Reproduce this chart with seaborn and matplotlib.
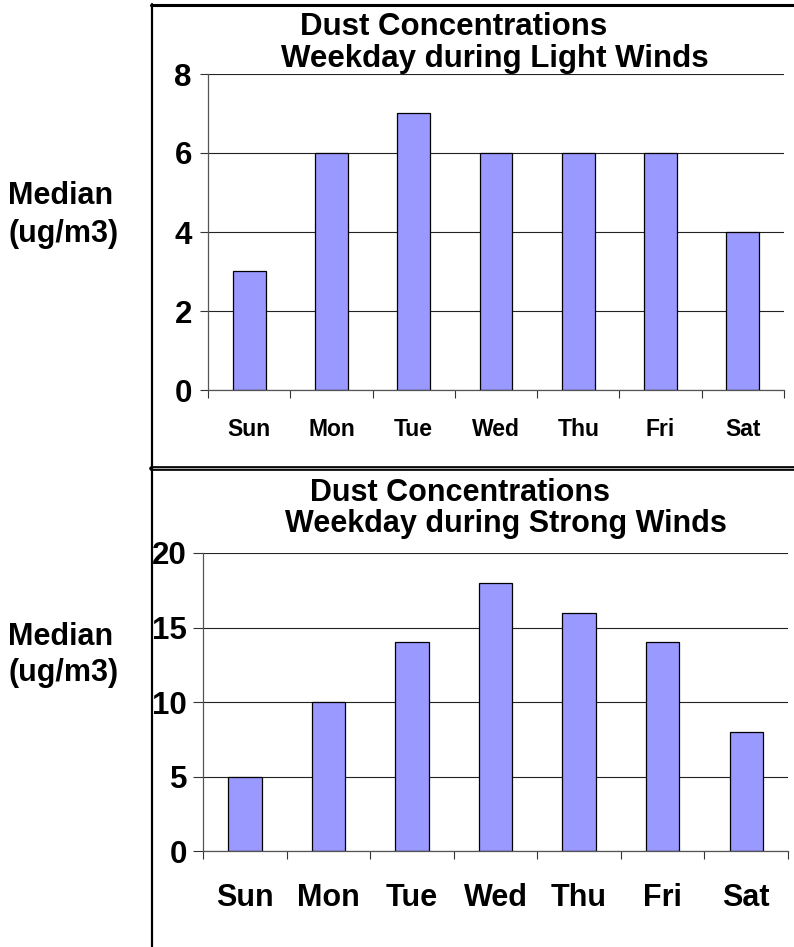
import matplotlib.pyplot as plt
import seaborn as sns
import pandas as pd
from matplotlib.lines import Line2D

days = ["Sun", "Mon", "Tue", "Wed", "Thu", "Fri", "Sat"]
light_winds = [3, 6, 7, 6, 6, 6, 4]
strong_winds = [5, 10, 14, 18, 16, 14, 8]

light_ticks = [0, 2, 4, 6, 8]
strong_ticks = [0, 5, 10, 15, 20]

title_top = ["Dust Concentrations", "Weekday during Light Winds"]
title_bottom = ["Dust Concentrations", "Weekday during Strong Winds"]
ylabel_lines = ["Median", "(ug/m3)"]

W, H = 794, 947

sns.set_theme(style="white")
plt.rcParams["font.family"] = ["Liberation Sans", "DejaVu Sans"]
plt.rcParams["font.weight"] = "bold"
plt.rcParams["text.color"] = "black"
plt.rcParams["xtick.labelcolor"] = "black"
plt.rcParams["ytick.labelcolor"] = "black"

fig = plt.figure(figsize=(W / 100, H / 100), dpi=100)
fig.patch.set_facecolor("white")


def fx(x):
    return x / W


def fy(y):
    return 1 - y / H


def axes_box(x0, x1, y_top, y_bot):
    return [fx(x0), fy(y_bot), (x1 - x0) / W, (y_bot - y_top) / H]


def draw_panel(ax, values, ticks, ylim, xfs, xpad, ytick_len, ypad):
    df = pd.DataFrame({"day": days, "value": values})
    sns.barplot(
        data=df, x="day", y="value", ax=ax,
        color="#9999FF", saturation=1, width=0.4,
        edgecolor="black", linewidth=0.9,
    )
    ax.set_xlim(-0.5, len(days) - 0.5)
    ax.set_ylim(*ylim)
    ax.set_yticks(ticks)
    ax.set_yticklabels([str(t) for t in ticks], fontsize=22.5,
                       fontweight="bold", color="black")
    ax.set_xticks([i - 0.5 for i in range(len(days) + 1)])
    ax.set_xticklabels([])
    ax.set_xticks(range(len(days)), minor=True)
    ax.set_xticklabels(days, minor=True, fontsize=xfs, fontweight="bold",
                       color="black")
    ax.tick_params(axis="x", which="major", direction="out", length=5.5,
                   width=0.8, color="#333333", bottom=True)
    ax.tick_params(axis="x", which="minor", length=0, pad=xpad)
    ax.tick_params(axis="y", direction="out", length=ytick_len, width=0.8,
                   color="#333333", pad=ypad, left=True)
    ax.set_xlabel("")
    ax.set_ylabel("")
    ax.set_axisbelow(True)
    ax.yaxis.grid(True, color="#222222", linewidth=0.8)
    ax.xaxis.grid(False)
    for side in ["top", "right"]:
        ax.spines[side].set_visible(False)
    for side in ["left", "bottom"]:
        ax.spines[side].set_color("#555555")
        ax.spines[side].set_linewidth(0.9)
    ax.set_facecolor("white")


# ==================
# Top panel
# ==================

ax1 = fig.add_axes(axes_box(208, 784, 74, 390))
draw_panel(ax1, light_winds, light_ticks, (0, 8), 16.5, 20, 5.8, 5.8)

fig.text(fx(454), fy(27), title_top[0], fontsize=22.5, fontweight="bold",
         ha="center", va="center")
fig.text(fx(495), fy(59), title_top[1], fontsize=22.5, fontweight="bold",
         ha="center", va="center")
fig.text(fx(8), fy(196), ylabel_lines[0], fontsize=22, fontweight="bold",
         ha="left", va="center")
fig.text(fx(8), fy(234), ylabel_lines[1], fontsize=22, fontweight="bold",
         ha="left", va="center")

# ==================
# Bottom panel
# ==================

ax2 = fig.add_axes(axes_box(203, 788, 553, 851))
draw_panel(ax2, strong_winds, strong_ticks, (0, 20), 22, 23, 7.2, 4.3)

fig.text(fx(460), fy(493), title_bottom[0], fontsize=22, fontweight="bold",
         ha="center", va="center")
fig.text(fx(506), fy(524), title_bottom[1], fontsize=22, fontweight="bold",
         ha="center", va="center")
fig.text(fx(8), fy(637), ylabel_lines[0], fontsize=22, fontweight="bold",
         ha="left", va="center")
fig.text(fx(8), fy(673), ylabel_lines[1], fontsize=22, fontweight="bold",
         ha="left", va="center")

# ==================
# Chart frames
# ==================

fig.add_artist(Line2D([fx(151.5), fx(151.5)], [fy(4), fy(947)],
                      color="black", linewidth=1.6))
fig.add_artist(Line2D([fx(151), fx(794)], [fy(5), fy(5)],
                      color="black", linewidth=2.2))
fig.add_artist(Line2D([fx(151), fx(794)], [fy(468.5), fy(468.5)],
                      color="black", linewidth=3.4))
fig.add_artist(Line2D([fx(153), fx(794)], [fy(468.5), fy(468.5)],
                      color="#aaaaaa", linewidth=0.8))

fig.savefig("out.png", dpi=100, facecolor="white")
plt.close()
